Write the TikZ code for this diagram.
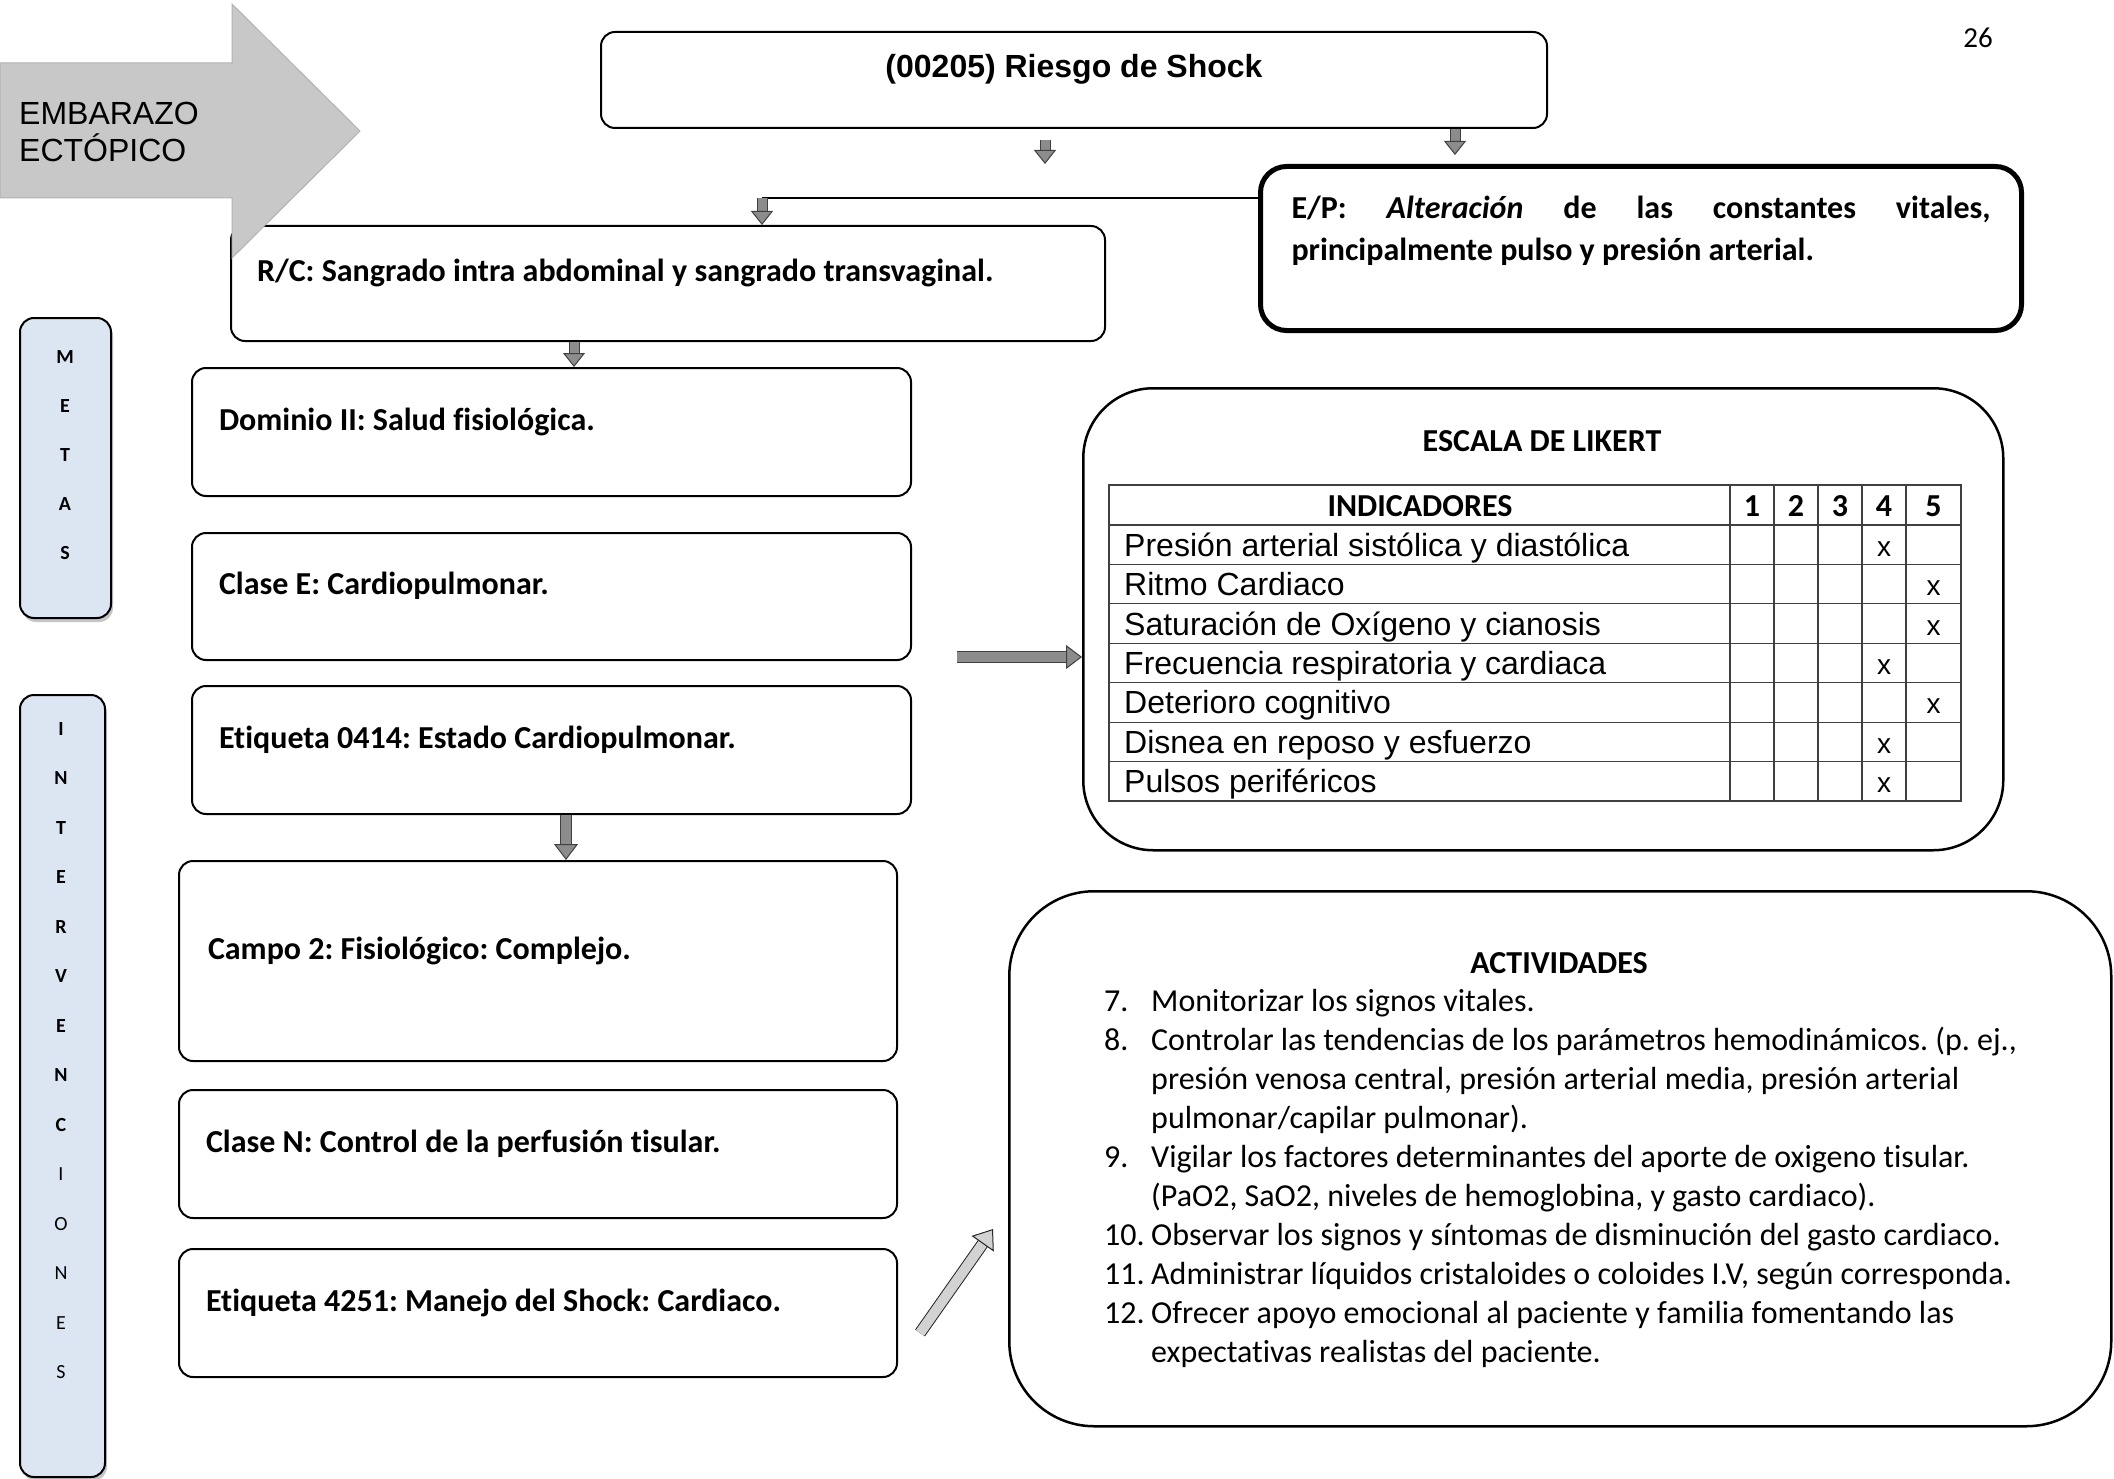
\documentclass[tikz,border=0pt]{standalone}
\usepackage{fontspec}
\setmainfont{Carlito}[Ligatures=CommonOff]
\newfontfamily\arialf{Liberation Sans}
\usetikzlibrary{arrows.meta,positioning,shadows,calc}
\frenchspacing

\definecolor{metafill}{RGB}{220,230,242}
\definecolor{arrgray}{RGB}{140,140,140}
\definecolor{lightfill}{RGB}{210,210,210}
\definecolor{bigfill}{RGB}{200,200,200}
\newcommand\pxfont{\fontsize{32}{39}\selectfont}

\begin{document}
\begin{tikzpicture}[x=1pt,y=-1pt,
  box/.style={draw,line width=2pt,rounded corners=14pt,fill=white,anchor=north west,
    align=flush left,inner xsep=27pt,text height=22pt,text depth=26pt,font=\pxfont\bfseries},
  bigbox/.style={draw,line width=2.5pt,anchor=north west},
  side/.style={draw,line width=2pt,rounded corners=14pt,fill=metafill,anchor=north west,
    drop shadow={shadow xshift=2pt,shadow yshift=-4pt,opacity=.45}},
  letra/.style={font=\fontsize{20}{24}\selectfont,inner sep=0pt},
  arr/.style={draw=black!75,line width=1pt,double=arrgray,double distance=9pt,
    -{Triangle[length=14pt,width=22pt,line width=1pt,fill=arrgray]}},
  arrbig/.style={arr,double distance=10pt,-{Triangle[length=16pt,width=24pt,line width=1pt,fill=arrgray]}},
  arrlite/.style={arr,draw=black!85,double=lightfill,double distance=10pt,
    -{Triangle[length=18pt,width=27pt,line width=1pt,fill=lightfill]}},
  tabla/.style={line width=1.2pt,black!75},
  cell/.style={font=\pxfont\arialf,anchor=base west,inner sep=0pt},
  hnum/.style={font=\pxfont\bfseries,anchor=base,inner sep=0pt}
]
\useasboundingbox (0,0) rectangle (2114,1479);

% encabezado
\node[font=\fontsize{29}{34}\selectfont] (pag) at (1978,38) {26};
\node[box,text width=892pt,minimum height=96pt,align=flush center,font=\pxfont\arialf\bfseries] (riesgo) at (600,31) {(00205) Riesgo de Shock};
\node[box,text width=822pt,minimum height=115pt,inner xsep=26pt] (rc) at (230,225) {R/C: Sangrado intra abdominal y sangrado transvaginal.};
\node[box,line width=5pt,rounded corners=26pt,inner xsep=31pt,text width=699pt,minimum height=164pt,
  align=justify,text height=24pt,text depth=84pt,font=\fontsize{32}{42}\selectfont\bfseries] (ep) at (1258,164)
  {E/P: \textit{Alteración} de las constantes vitales,\linebreak principalmente pulso y presión arterial.};

% metas / intervenciones
\node[side,minimum width=91pt,minimum height=300pt] (metas) at (19,317) {};
\foreach \l [count=\i] in {M,E,T,A,S}
  \node[letra] (m\i) at (65,{357+49*(\i-1)}) {\bfseries\l};
\node[side,minimum width=85pt,minimum height=782pt] (interv) at (19,694) {};
\foreach \l/\f [count=\i] in {I/\bfseries,N/\bfseries,T/\bfseries,E/\bfseries,R/\bfseries,V/\bfseries,E/\bfseries,
    N/\bfseries,C/\bfseries,I/\mdseries,O/\mdseries,N/\mdseries,E/\mdseries,S/\mdseries}
  \node[letra] (i\i) at (61,{729+49.5*(\i-1)}) {\f\l};

% columna izquierda
\node[box,text width=665pt,minimum height=128pt] (dom) at (191,367) {Dominio II: Salud fisiológica.};
\node[box,text width=665pt,minimum height=127pt,below=35pt of dom.south west,anchor=north west] (clasee) {Clase E: Cardiopulmonar.};
\node[box,text width=665pt,minimum height=128pt,below=24pt of clasee.south west,anchor=north west] (eti1) {Etiqueta 0414: Estado Cardiopulmonar.};
\node[box,text width=660pt,inner xsep=29pt,minimum height=200pt] (campo) at (178,860) {Campo 2: Fisiológico: Complejo.};
\node[box,text width=664pt,minimum height=128pt,below=27pt of campo.south west,anchor=north west] (clasen) {Clase N: Control de la perfusión tisular.};
\node[box,text width=664pt,minimum height=128pt,below=29pt of clasen.south west,anchor=north west] (eti2) {Etiqueta 4251: Manejo del Shock: Cardiaco.};

% escala de likert
\node[bigbox,rounded corners=70pt,minimum width=920pt,minimum height=462pt] (likert) at (1082,387) {};
\node[font=\pxfont\bfseries,anchor=base] (esc) at (1542,451) {ESCALA DE LIKERT};
\draw[tabla] (1109,485) rectangle (1961,801);
\foreach \x in {1730,1774,1818,1862,1906}
  \draw[tabla] (\x,485) -- (\x,801);
\foreach \i in {0,...,6}
  \draw[tabla] (1109,{525+39.43*\i}) -- (1961,{525+39.43*\i});
\node[hnum] (hind) at (1420,516) {INDICADORES};
\foreach \n/\x in {1/1752,2/1796,3/1840,4/1884,5/1933.5}
  \node[hnum] (h\n) at (\x,516) {\n};
\foreach \lab/\mcol [count=\i] in {Presión arterial sistólica y diastólica/1884,Ritmo Cardiaco/1933.5,
    Saturación de Oxígeno y cianosis/1933.5,Frecuencia respiratoria y cardiaca/1884,
    Deterioro cognitivo/1933.5,Disnea en reposo y esfuerzo/1884,Pulsos periféricos/1884}{
  \node[cell] (ind\i) at (1124,{525+39.43*\i-8.2}) {\lab};
  \node[font=\fontsize{28}{32}\selectfont\arialf,anchor=base,inner sep=0pt] (mk\i) at (\mcol,{525+39.43*\i-8.2}) {x};
}

% actividades
\node[bigbox,rounded corners=85pt,minimum width=1102pt,minimum height=535pt] (act) at (1008,890) {};
\node[font=\pxfont\bfseries,anchor=base] (acttit) at (1559,973) {ACTIVIDADES};
\foreach \n/\lab [count=\i] in {{7.}/{Monitorizar los signos vitales.},
    {8.}/{Controlar las tendencias de los parámetros hemodinámicos. (p. ej.,},
    {}/{presión venosa central, presión arterial media, presión arterial},
    {}/{pulmonar/capilar pulmonar).},
    {9.}/{Vigilar los factores determinantes del aporte de oxigeno tisular.},
    {}/{(PaO2, SaO2, niveles de hemoglobina, y gasto cardiaco).},
    {10.}/{Observar los signos y síntomas de disminución del gasto cardiaco.},
    {11.}/{Administrar líquidos cristaloides o coloides I.V, según corresponda.},
    {12.}/{Ofrecer apoyo emocional al paciente y familia fomentando las},
    {}/{expectativas realistas del paciente.}}
  \node[font=\pxfont,anchor=base west,inner sep=0pt] (al\i) at (1104,{1011+39*(\i-1)}) {\makebox[47pt][l]{\n}\lab};

% flecha embarazo ectopico
\draw[draw=black!30,fill=bigfill,line width=1pt] (0,63) -- (232,63) -- (232,4) -- (360,131)
  -- (232,258) -- (232,198) -- (0,198) -- cycle;
\node[font=\fontsize{32}{37}\selectfont\arialf,align=left,anchor=north west,inner sep=0pt] (emb) at (19,102) {EMBARAZO\\ECTÓPICO};

% conectores
\coordinate (libre) at (1045,164);
\coordinate (xep) at (1455,0);
\coordinate (codo) at (762,198);
\coordinate (xrc) at (574,0);
\coordinate (xeti) at (566,0);
\coordinate (der) at (957,657);
\coordinate (diag) at (920,1333);
\coordinate (diagfin) at (993,1229);
\draw[arr] ($(riesgo.south -| libre)+(0,11)$) -- (libre);
\draw[arr] (riesgo.south -| xep) -- ($(ep.north -| xep)+(0,-9)$);
\draw[line width=1.5pt] (ep.west |- codo) -- (codo);
\draw[arr] (codo) -- (rc.north -| codo);
\draw[arr] (rc.south -| xrc) -- (dom.north -| xrc);
\draw[arrbig] (eti1.south -| xeti) -- (campo.north -| xeti);
\draw[arrbig] (der) -- (der -| likert.west);
\draw[arrlite] (diag) -- (diagfin);
\end{tikzpicture}
\end{document}
